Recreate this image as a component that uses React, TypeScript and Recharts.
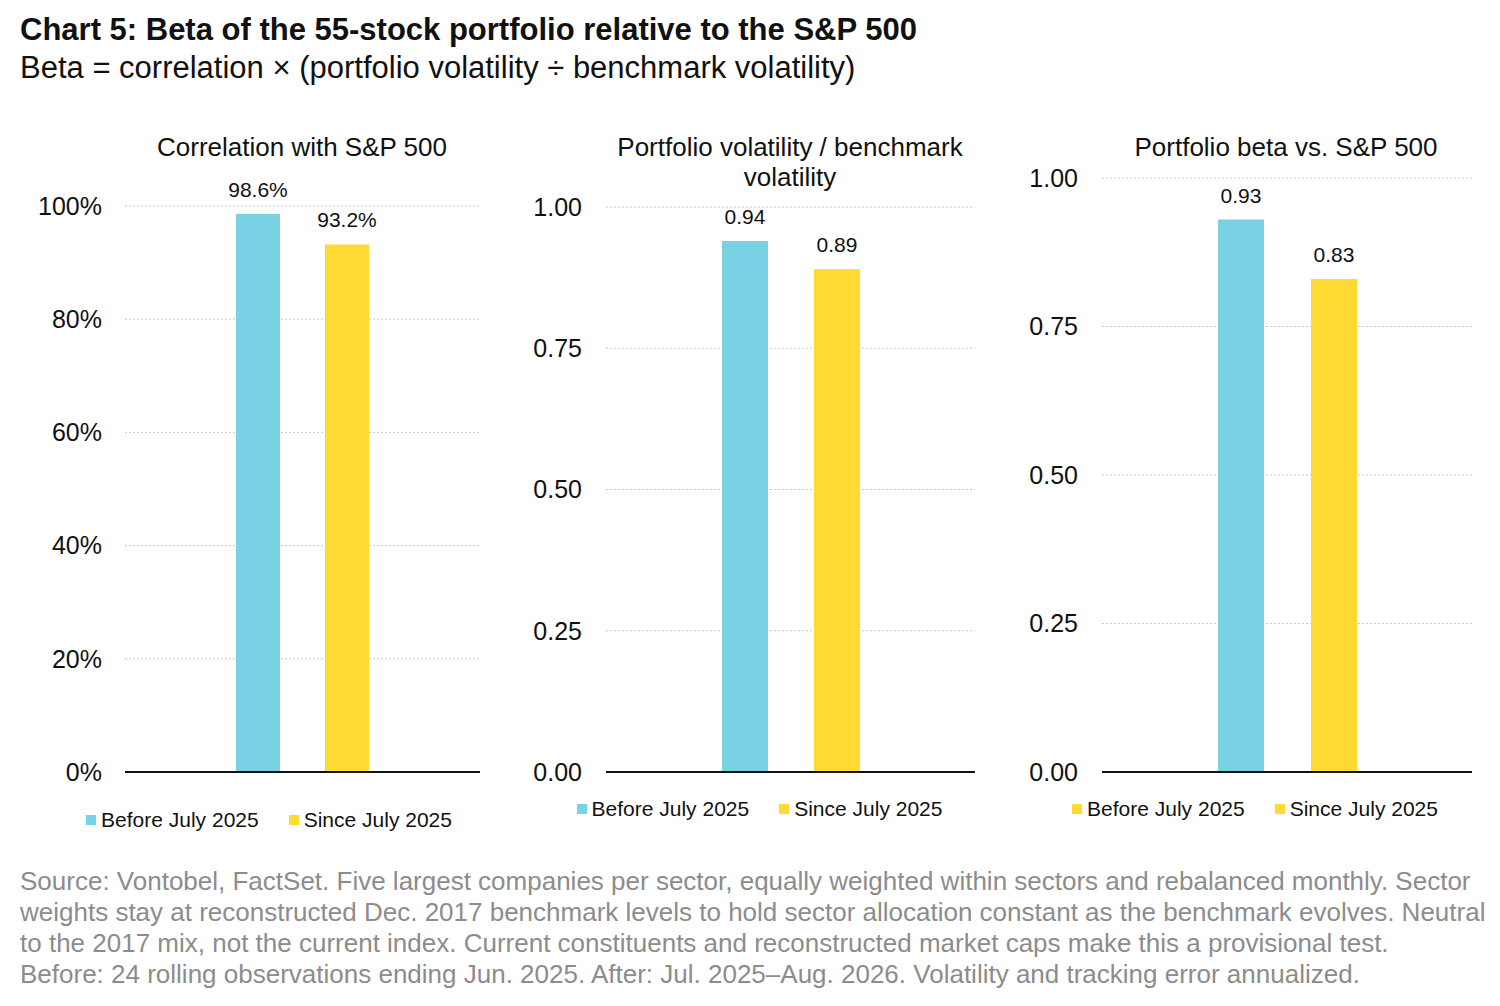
import React from "react";
import {
  BarChart,
  Bar,
  XAxis,
  YAxis,
  CartesianGrid,
  Legend,
  LabelList,
  ReferenceLine,
} from "recharts";

// Values.
const CATEGORY = ["All"];
const CORRELATION = [0.986, 0.932];
const VOL_RATIO = [0.94, 0.89];
const BETA = [0.93, 0.83];

const PCT_TICKS = [0, 0.2, 0.4, 0.6, 0.8, 1.0];
const RATIO_TICKS = [0, 0.25, 0.5, 0.75, 1.0];

const SERIES_NAMES = ["Before July 2025", "Since July 2025"];

const BLUE = "#78D2E4";
const YELLOW = "#FFDA33";
const FONT = "'Liberation Sans', Arial, sans-serif";

const FOOTNOTE = [
  "Source: Vontobel, FactSet. Five largest companies per sector, equally weighted within sectors and rebalanced monthly. Sector",
  "weights stay at reconstructed Dec. 2017 benchmark levels to hold sector allocation constant as the benchmark evolves. Neutral",
  "to the 2017 mix, not the current index. Current constituents and reconstructed market caps make this a provisional test.",
  "Before: 24 rolling observations ending Jun. 2025. After: Jul. 2025–Aug. 2026. Volatility and tracking error annualized.",
];

interface PanelProps {
  title: string[];
  values: number[];
  ticks: number[];
  tickFmt: (v: number) => string;
  labelFmt: (v: number) => string;
  left: number;
  width: number;
  plotTop: number;
  yAxisWidth: number;
  tickGap: number;
  barSize: number;
  barGap: number;
  legendColors: string[];
  legendPadTop: number;
  legendShift: number;
  titleCenter: number;
}

const CHART_TOP = 150;
const PLOT_BOTTOM = 772;
const LEGEND_H = 70;

function Panel(p: PanelProps) {
  const data = CATEGORY.map((name) => ({
    name,
    before: p.values[0],
    since: p.values[1],
  }));
  const height = PLOT_BOTTOM - CHART_TOP + LEGEND_H;

  return (
    <>
      <div
        style={{
          position: "absolute",
          left: p.titleCenter - 220,
          width: 440,
          top: 132,
          textAlign: "center",
          fontSize: 26,
          lineHeight: "30px",
          color: "#111",
        }}
      >
        {p.title.map((t) => (
          <div key={t}>{t}</div>
        ))}
      </div>
      <div style={{ position: "absolute", left: p.left, top: CHART_TOP }}>
        <BarChart
          width={p.width}
          height={height}
          data={data}
          margin={{ top: p.plotTop - CHART_TOP, right: 0, bottom: 0, left: 0 }}
          barGap={p.barGap}
          style={{ overflow: "visible" }}
        >
          <CartesianGrid
            vertical={false}
            stroke="#c8c8c8"
            strokeDasharray="2 2"
          />
          <XAxis dataKey="name" hide />
          <YAxis
            domain={[0, 1]}
            ticks={p.ticks}
            tickFormatter={p.tickFmt}
            axisLine={false}
            tickLine={false}
            // label's right edge sits tickGap px left of the plot
            tickMargin={p.tickGap - 6}
            width={p.yAxisWidth}
            tick={{ fill: "#111", fontSize: 25, fontFamily: FONT }}
          />
          <Legend
            verticalAlign="bottom"
            wrapperStyle={{ height: LEGEND_H }}
            content={() => (
              <div
                style={{
                  display: "flex",
                  justifyContent: "center",
                  gap: 30,
                  paddingTop: p.legendPadTop,
                  transform: `translateX(${p.legendShift}px)`,
                  fontSize: 21,
                  lineHeight: "24px",
                  color: "#111",
                }}
              >
                {SERIES_NAMES.map((n, i) => (
                  <div key={n} style={{ display: "flex", alignItems: "center" }}>
                    <span
                      style={{
                        display: "inline-block",
                        width: 10,
                        height: 10,
                        background: p.legendColors[i],
                        marginRight: 5,
                      }}
                    />
                    {n}
                  </div>
                ))}
              </div>
            )}
          />
          <Bar
            dataKey="before"
            name={SERIES_NAMES[0]}
            fill={BLUE}
            barSize={p.barSize}
            isAnimationActive={false}
          >
            <LabelList
              dataKey="before"
              position="top"
              offset={17}
              formatter={(v: any) => p.labelFmt(Number(v))}
              style={{ fill: "#111", fontSize: 21, fontFamily: FONT }}
            />
          </Bar>
          <Bar
            dataKey="since"
            name={SERIES_NAMES[1]}
            fill={YELLOW}
            barSize={p.barSize}
            isAnimationActive={false}
          >
            <LabelList
              dataKey="since"
              position="top"
              offset={17}
              formatter={(v: any) => p.labelFmt(Number(v))}
              style={{ fill: "#111", fontSize: 21, fontFamily: FONT }}
            />
          </Bar>
          <ReferenceLine y={0} stroke="#111" strokeWidth={2} />
        </BarChart>
      </div>
    </>
  );
}

export default function App() {
  const pct = (v: number) => `${Math.round(v * 100)}%`;
  const pct1 = (v: number) => `${(v * 100).toFixed(1)}%`;
  const dec = (v: number) => v.toFixed(2);

  return (
    <div
      style={{
        position: "absolute",
        left: 0,
        top: 0,
        width: 1500,
        height: 1006,
        background: "#fff",
        fontFamily: FONT,
        color: "#111",
      }}
    >
      <div
        style={{
          position: "absolute",
          left: 20,
          top: 12,
          fontSize: 31,
          fontWeight: "bold",
          lineHeight: "36px",
        }}
      >
        Chart 5: Beta of the 55-stock portfolio relative to the S&amp;P 500
      </div>
      <div
        style={{
          position: "absolute",
          left: 20,
          top: 50,
          fontSize: 31,
          lineHeight: "36px",
        }}
      >
        Beta = correlation × (portfolio volatility ÷ benchmark volatility)
      </div>

      <Panel
        title={["Correlation with S&P 500"]}
        values={CORRELATION}
        ticks={PCT_TICKS}
        tickFmt={pct}
        labelFmt={pct1}
        left={20}
        width={460}
        plotTop={206}
        yAxisWidth={105}
        tickGap={23}
        barSize={44}
        barGap={45}
        legendColors={[BLUE, YELLOW]}
        legendPadTop={36}
        legendShift={19}
        titleCenter={302}
      />
      <Panel
        title={["Portfolio volatility / benchmark", "volatility"]}
        values={VOL_RATIO}
        ticks={RATIO_TICKS}
        tickFmt={dec}
        labelFmt={dec}
        left={500}
        width={475}
        plotTop={207}
        yAxisWidth={106}
        tickGap={24}
        barSize={46}
        barGap={46}
        legendColors={[BLUE, YELLOW]}
        legendPadTop={25}
        legendShift={22}
        titleCenter={790}
      />
      <Panel
        title={["Portfolio beta vs. S&P 500"]}
        values={BETA}
        ticks={RATIO_TICKS}
        tickFmt={dec}
        labelFmt={dec}
        left={1000}
        width={472}
        plotTop={178}
        yAxisWidth={102}
        tickGap={24}
        barSize={46}
        barGap={47}
        legendColors={[YELLOW, YELLOW]}
        legendPadTop={25}
        legendShift={19}
        titleCenter={1286}
      />

      <div
        style={{
          position: "absolute",
          left: 20,
          top: 866,
          fontSize: 26,
          lineHeight: "31px",
          color: "#8c8c8c",
          whiteSpace: "nowrap",
        }}
      >
        {FOOTNOTE.map((l) => (
          <div key={l}>{l}</div>
        ))}
      </div>
    </div>
  );
}
